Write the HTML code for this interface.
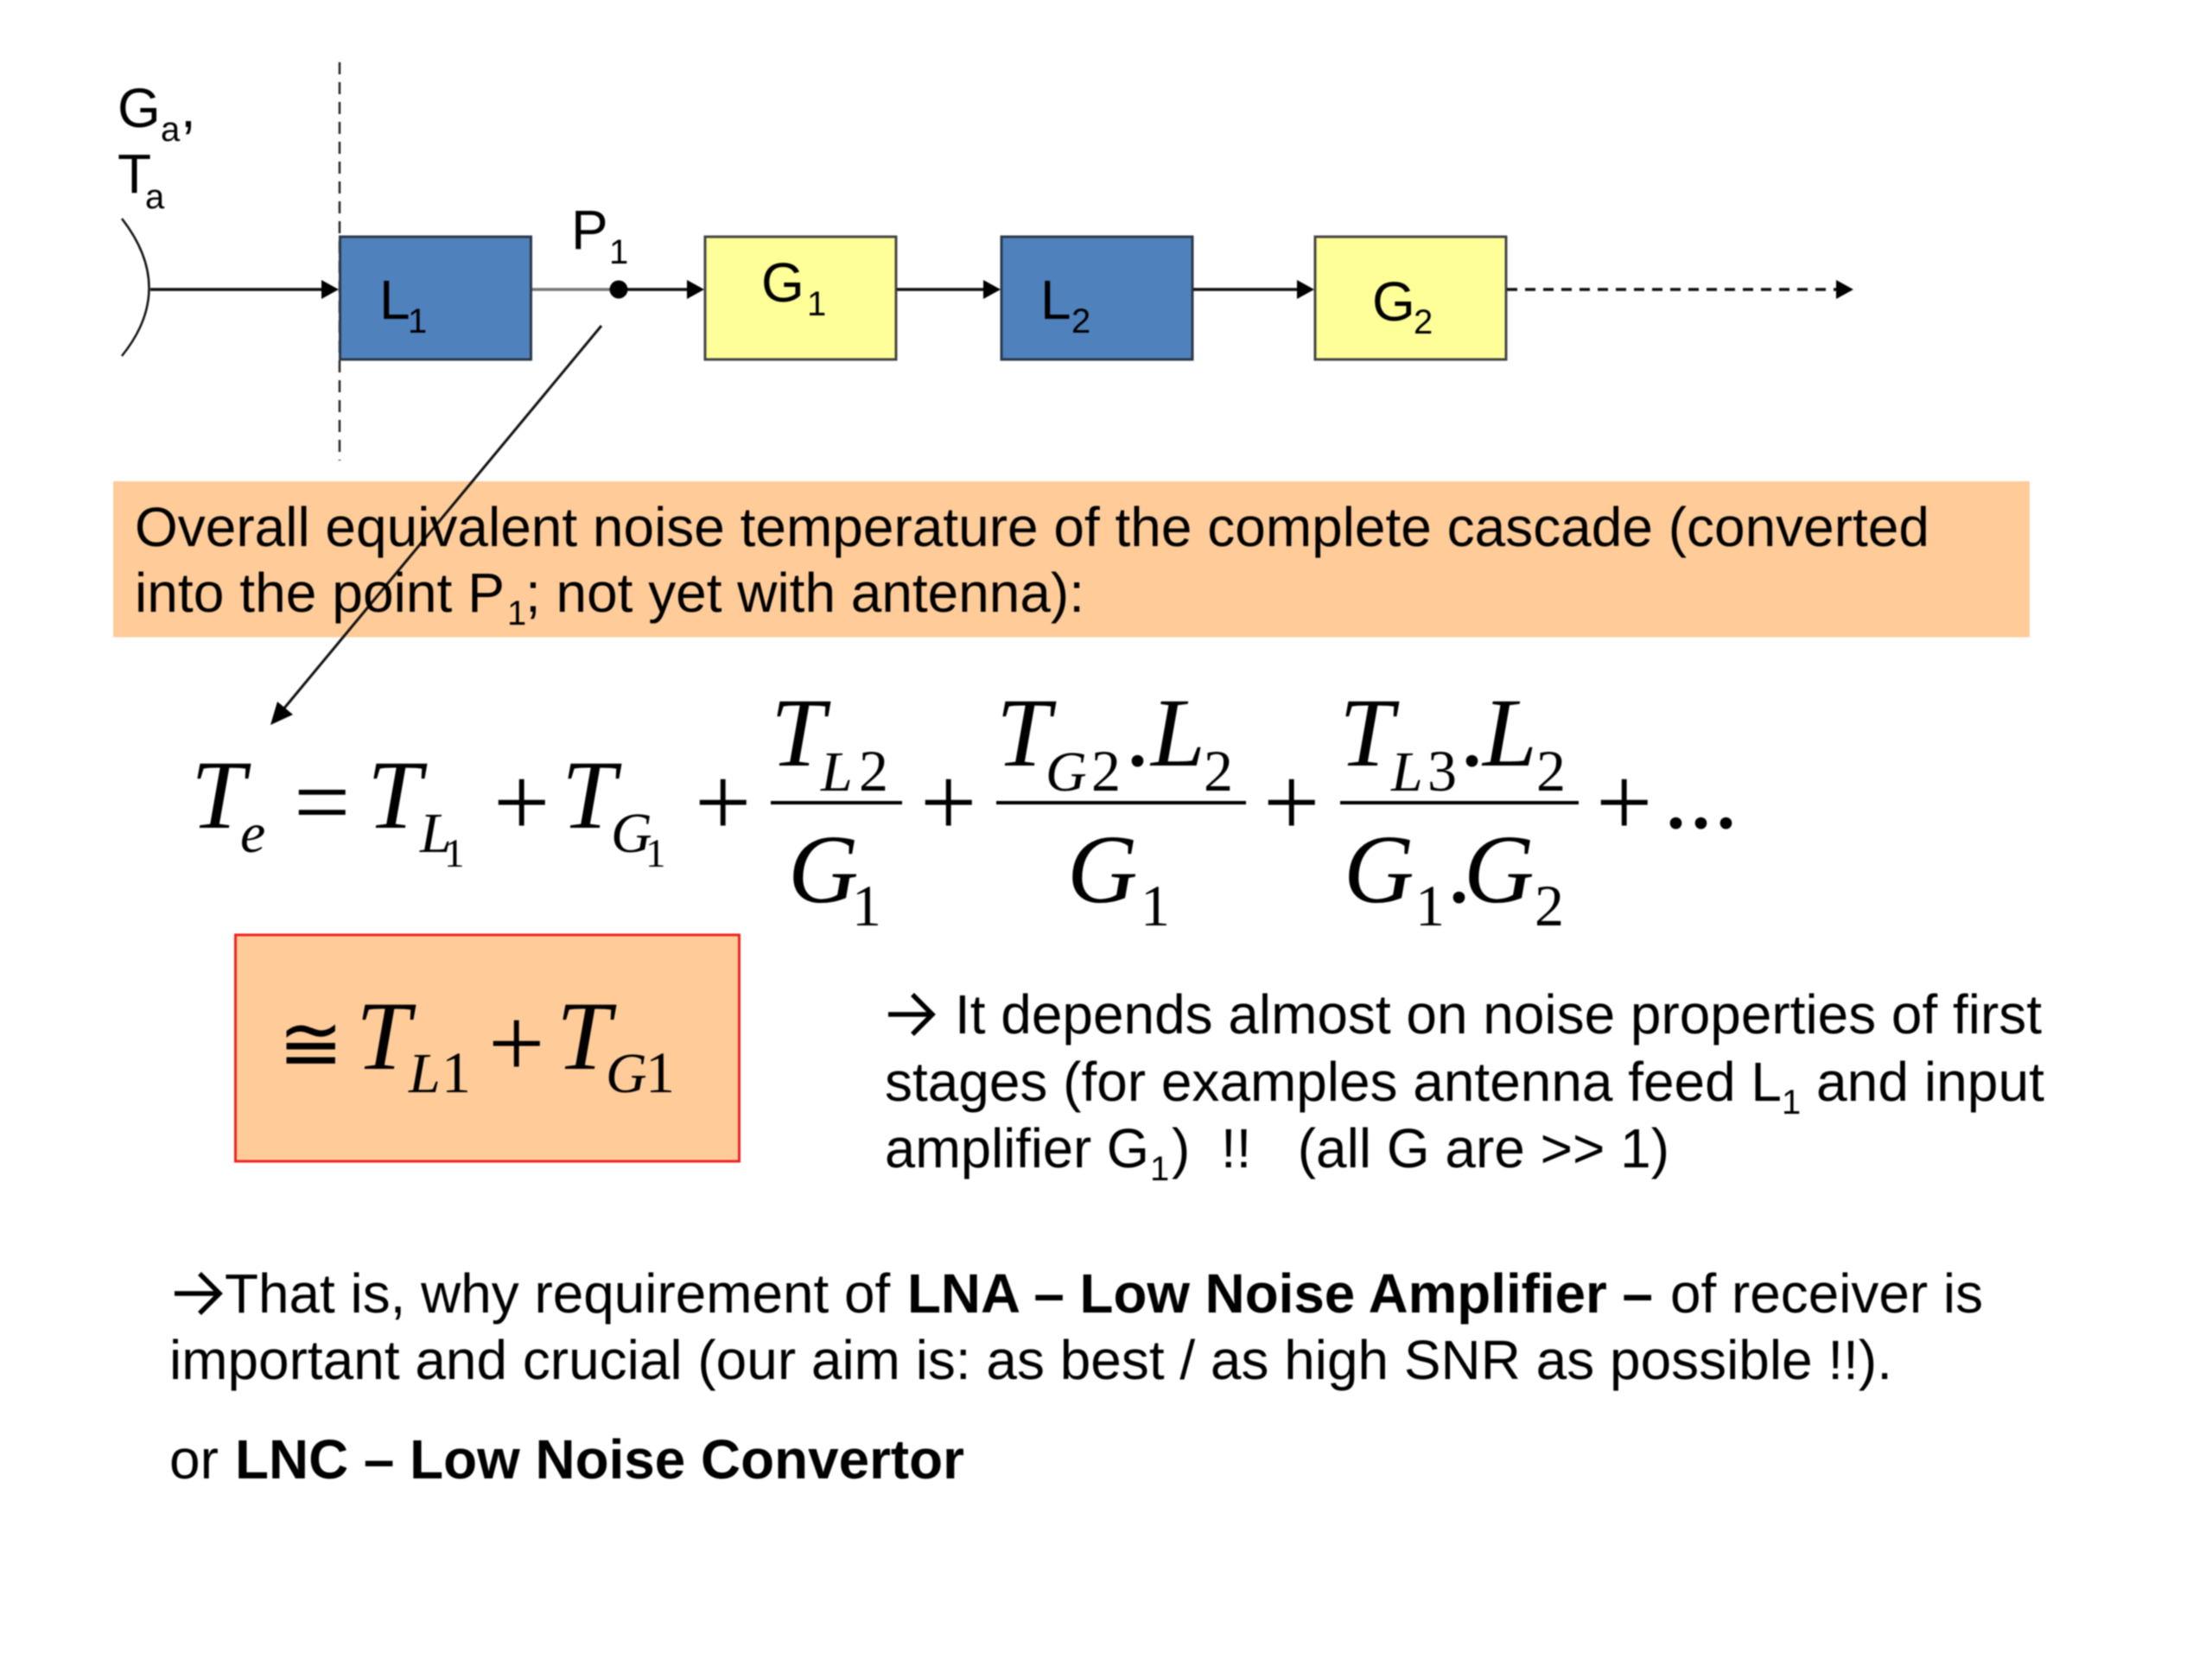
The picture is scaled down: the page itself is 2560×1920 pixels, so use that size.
<!DOCTYPE html>
<html><head><meta charset="utf-8"><style>
html,body{margin:0;padding:0;background:#fff;width:2560px;height:1920px;overflow:hidden}
svg{display:block;filter:blur(0.7px)}
text{white-space:pre;fill:#000}
.s{font-family:"Liberation Sans",sans-serif;font-size:64px}
.ss{font-family:"Liberation Sans",sans-serif;font-size:40px}
.b{font-weight:bold}
.m{font-family:"Liberation Serif",serif;font-size:113px;font-style:italic}
.n{font-family:"Liberation Serif",serif;font-size:116px}
.i6{font-family:"Liberation Serif",serif;font-size:66px;font-style:italic}
.n6{font-family:"Liberation Serif",serif;font-size:68px}
.n4{font-family:"Liberation Serif",serif;font-size:47px}
</style></head><body>
<svg width="2560" height="1920" viewBox="0 0 2560 1920" xmlns="http://www.w3.org/2000/svg">
<rect width="2560" height="1920" fill="#fff"/>
<!-- dashed boundary -->
<line x1="393" y1="72" x2="393" y2="533" stroke="#222" stroke-width="2.5" stroke-dasharray="14 9"/>
<!-- antenna -->
<path d="M141 253 Q204 334 141 412" fill="none" stroke="#111" stroke-width="2.5"/>
<!-- blocks -->
<rect x="393.5" y="274" width="221" height="142" fill="#4F81BD" stroke="#2a3a4a" stroke-width="3"/>
<rect x="816" y="274" width="221" height="142" fill="#FFFF99" stroke="#444" stroke-width="3"/>
<rect x="1159" y="274" width="221" height="142" fill="#4F81BD" stroke="#2a3a4a" stroke-width="3"/>
<rect x="1522" y="274" width="221" height="142" fill="#FFFF99" stroke="#444" stroke-width="3"/>
<!-- connectors -->
<g stroke="#111" stroke-width="3.5" fill="none">
<line x1="174" y1="335" x2="380" y2="335"/>
<line x1="616" y1="335" x2="715" y2="335" stroke="#777"/>
<line x1="715" y1="335" x2="802" y2="335"/>
<line x1="1038" y1="335" x2="1145" y2="335"/>
<line x1="1381" y1="335" x2="1508" y2="335"/>
<line x1="1744" y1="335" x2="2130" y2="335" stroke-dasharray="12 9"/>
</g>
<g fill="#000">
<path d="M372 324 L392 335 L372 346Z"/>
<path d="M795 324 L815 335 L795 346Z"/>
<path d="M1138 324 L1158 335 L1138 346Z"/>
<path d="M1501 324 L1521 335 L1501 346Z"/>
<path d="M2125 324 L2145 335 L2125 346Z"/>
<circle cx="716" cy="335" r="10.5"/>
</g>
<!-- orange bar -->
<rect x="131" y="557" width="2218" height="180.5" fill="#FFCC99"/>
<!-- diagonal arrow -->
<line x1="696" y1="377" x2="322" y2="828" stroke="#111" stroke-width="3"/>
<path d="M313 839 L321 812 L339 827Z" fill="#000"/>
<!-- top labels -->
<text class="s" x="136" y="147">G</text><text class="ss" x="186" y="163">a</text><text class="s" x="209" y="147" style="font-size:64px">,</text>
<text class="s" x="136" y="223">T</text><text class="ss" x="168" y="241">a</text>
<text class="s" x="661" y="288">P</text><text class="ss" x="705" y="305">1</text>
<text class="s" x="439" y="369">L</text><text class="ss" x="472" y="385">1</text>
<text class="s" x="881" y="349">G</text><text class="ss" x="934" y="365">1</text>
<text class="s" x="1204" y="369">L</text><text class="ss" x="1240" y="385">2</text>
<text class="s" x="1588" y="371">G</text><text class="ss" x="1636" y="386">2</text>
<!-- bar text -->
<text class="s" x="156" y="632" textLength="2077" lengthAdjust="spacingAndGlyphs">Overall equivalent noise temperature of the complete cascade (converted</text>
<text class="s" x="156" y="708" textLength="428" lengthAdjust="spacingAndGlyphs">into the point P</text>
<text class="ss" x="587" y="723">1</text>
<text class="s" x="608" y="708" textLength="647" lengthAdjust="spacingAndGlyphs">; not yet with antenna):</text>
<!-- formula -->
<text class="m" x="221" y="958">T</text><text class="i6" x="278" y="986">e</text>
<text class="n" x="340" y="967">=</text>
<text class="m" x="425" y="958">T</text><text class="i6" x="486" y="986">L</text><text class="n4" x="514" y="1003">1</text>
<text class="n" x="571" y="967">+</text>
<text class="m" x="650" y="958">T</text><text class="i6" x="707" y="986">G</text><text class="n4" x="747" y="1003">1</text>
<text class="n" x="804" y="967">+</text>
<text class="m" x="892" y="886">T</text><text class="i6" x="950" y="915">L</text><text class="n6" x="994" y="915">2</text>
<line x1="892" y1="929" x2="1044" y2="929" stroke="#000" stroke-width="4"/>
<text class="m" x="912" y="1044">G</text><text class="n6" x="986" y="1071">1</text>
<text class="n" x="1065" y="967">+</text>
<text class="m" x="1153" y="886">T</text><text class="i6" x="1210" y="915">G</text><text class="n6" x="1263" y="915">2</text>
<text class="n" x="1302" y="886">.</text><text class="m" x="1332" y="886">L</text><text class="n6" x="1393" y="915">2</text>
<line x1="1153" y1="929" x2="1442" y2="929" stroke="#000" stroke-width="4"/>
<text class="m" x="1235" y="1044">G</text><text class="n6" x="1320" y="1071">1</text>
<text class="n" x="1462" y="967">+</text>
<text class="m" x="1550" y="886">T</text><text class="i6" x="1610" y="915">L</text><text class="n6" x="1652" y="915">3</text>
<text class="n" x="1689" y="886">.</text><text class="m" x="1716" y="886">L</text><text class="n6" x="1778" y="915">2</text>
<line x1="1551" y1="929" x2="1827" y2="929" stroke="#000" stroke-width="4"/>
<text class="m" x="1555" y="1044">G</text><text class="n6" x="1638" y="1071">1</text>
<text class="n" x="1674" y="1044">.</text><text class="m" x="1694" y="1044">G</text><text class="n6" x="1776" y="1071">2</text>
<text class="n" x="1847" y="967">+</text>
<text class="n" x="1925" y="958">...</text>
<!-- red box -->
<rect x="272.5" y="1082" width="583" height="262" fill="#FFCC99" stroke="#EE2222" stroke-width="3"/>
<text x="322" y="1239" style="font-family:'DejaVu Serif',serif;font-size:90px">≅</text>
<text class="m" x="412" y="1237">T</text><text class="i6" x="473" y="1264">L</text><text class="n6" x="511" y="1264">1</text>
<text class="n" x="565" y="1246">+</text>
<text class="m" x="644" y="1237">T</text><text class="i6" x="701" y="1264">G</text><text class="n6" x="747" y="1264">1</text>
<!-- right text -->
<path d="M1028 1174 H1078 M1056 1151 L1079 1174 L1056 1197" fill="none" stroke="#000" stroke-width="5.5"/>
<text class="s" x="1105" y="1196" textLength="1258" lengthAdjust="spacingAndGlyphs">It depends almost on noise properties of first</text>
<text class="s" x="1024" y="1274" textLength="1038" lengthAdjust="spacingAndGlyphs">stages (for examples antenna feed L</text>
<text class="ss" x="2062" y="1289">1</text>
<text class="s" x="2102" y="1274" textLength="264" lengthAdjust="spacingAndGlyphs">and input</text>
<text class="s" x="1024" y="1351" textLength="306" lengthAdjust="spacingAndGlyphs">amplifier G</text>
<text class="ss" x="1331" y="1366">1</text>
<text class="s" x="1356" y="1351" textLength="576" lengthAdjust="spacingAndGlyphs">)  !!   (all G are &gt;&gt; 1)</text>
<!-- bottom text -->
<path d="M202 1497 H252 M231 1474 L254 1497 L231 1520" fill="none" stroke="#000" stroke-width="5.5"/>
<text class="s" x="260" y="1519" textLength="788" lengthAdjust="spacingAndGlyphs">That is, why requirement of </text>
<text class="s b" x="1050" y="1519" textLength="863" lengthAdjust="spacingAndGlyphs">LNA – Low Noise Amplifier –</text>
<text class="s" x="1933" y="1519" textLength="362" lengthAdjust="spacingAndGlyphs">of receiver is</text>
<text class="s" x="196" y="1596" textLength="1994" lengthAdjust="spacingAndGlyphs">important and crucial (our aim is: as best / as high SNR as possible !!).</text>
<text class="s" x="196" y="1711">or</text>
<text class="s b" x="272" y="1711" textLength="844" lengthAdjust="spacingAndGlyphs">LNC – Low Noise Convertor</text>
</svg>
</body></html>
